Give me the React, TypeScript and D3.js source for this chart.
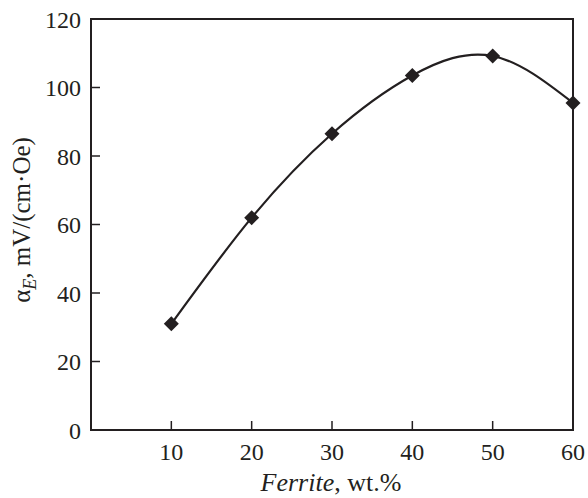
import React from "react";
import * as d3 from "d3";

const ferrite = [10, 20, 30, 40, 50, 60];
const alphaE = [31, 62, 86.5, 103.5, 109.2, 95.5];
const xTicks = [10, 20, 30, 40, 50, 60];
const yTicks = [0, 20, 40, 60, 80, 100, 120];

const W = 588;
const H = 498;
const M = { left: 91, right: 573, top: 19, bottom: 430 };
const INK = "#231f20";
const FONT = "Liberation Serif";

export default function App() {
  const x = d3.scaleLinear().domain([0, 60]).range([M.left, M.right]);
  const y = d3.scaleLinear().domain([0, 120]).range([M.bottom, M.top]);
  const pts: [number, number][] = ferrite.map((f, i) => [f, alphaE[i]]);
  const line = d3
    .line<[number, number]>()
    .x((d) => x(d[0]))
    .y((d) => y(d[1]))
    .curve(d3.curveNatural);
  const tick = 9;
  const r = 7.5;
  const ts = { fontFamily: FONT };
  return (
    <svg
      width={W}
      height={H}
      style={{ position: "absolute", left: 0, top: 0, background: "#fff" }}
    >
      <rect x={0} y={0} width={W} height={H} fill="#fff" />
      <rect
        x={M.left}
        y={M.top}
        width={M.right - M.left}
        height={M.bottom - M.top}
        fill="none"
        stroke={INK}
        strokeWidth={2}
      />
      {xTicks.map((t) => (
        <g key={"x" + t}>
          {t < 60 && (
            <line x1={x(t)} x2={x(t)} y1={M.bottom} y2={M.bottom - tick} stroke={INK} strokeWidth={1.5} />
          )}
          <text x={x(t)} y={460} textAnchor="middle" fontSize={24} fill={INK} style={ts}>
            {t}
          </text>
        </g>
      ))}
      {yTicks.map((t) => (
        <g key={"y" + t}>
          {t > 0 && t < 120 && (
            <line x1={M.left} x2={M.left + tick} y1={y(t)} y2={y(t)} stroke={INK} strokeWidth={1.5} />
          )}
          <text x={81} y={y(t) + 8.5} textAnchor="end" fontSize={24} fill={INK} style={ts}>
            {t}
          </text>
        </g>
      ))}
      <path d={line(pts) || ""} fill="none" stroke={INK} strokeWidth={2.2} />
      {pts.map((p, i) => (
        <path
          key={"m" + i}
          d={`M${x(p[0])},${y(p[1]) - r}L${x(p[0]) + r},${y(p[1])}L${x(p[0])},${y(p[1]) + r}L${x(p[0]) - r},${y(p[1])}Z`}
          fill={INK}
        />
      ))}
      <text x={331} y={491} textAnchor="middle" fontSize={26} fill={INK} style={ts}>
        <tspan fontStyle="italic">Ferrite</tspan>, wt.%
      </text>
      <text
        transform={`translate(30,${220}) rotate(-90)`}
        textAnchor="middle"
        fontSize={25}
        fill={INK}
        style={ts}
      >
        α
        <tspan fontStyle="italic" fontSize={18} dy={6}>E</tspan>
        <tspan dy={-6}>, mV/(cm·Oe)</tspan>
      </text>
    </svg>
  );
}
